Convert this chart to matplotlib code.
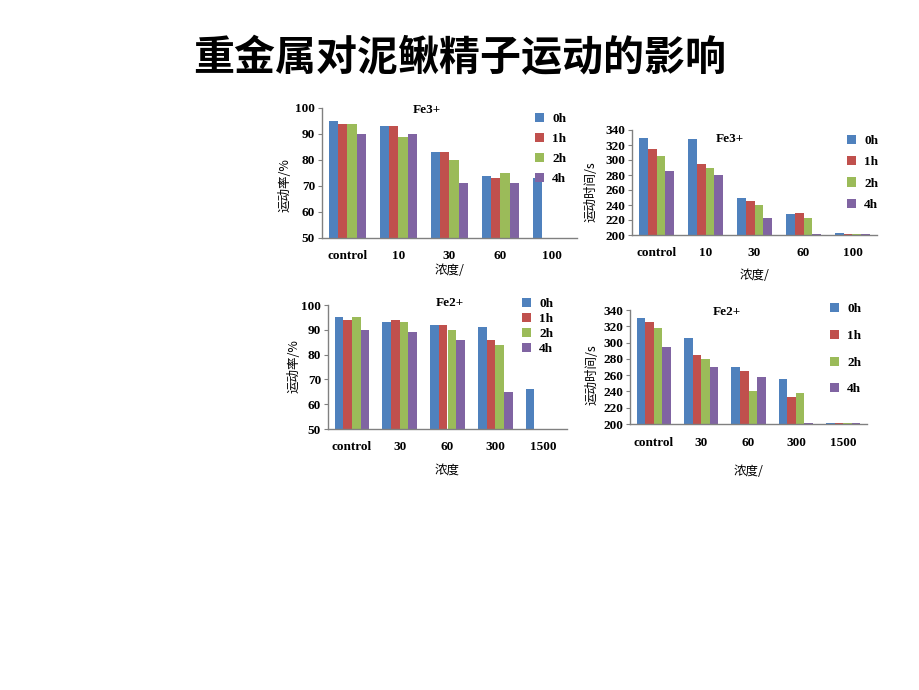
import matplotlib.pyplot as plt
import numpy as np
from matplotlib.font_manager import FontProperties

# Data (nan = no bar drawn)
hours = ['0h', '1h', '2h', '4h']
colors = ['#4F81BD', '#C0504D', '#9BBB59', '#8064A2']

fe3_conc = ['control', '10', '30', '60', '100']
fe3_rate = [  # per hour series, per concentration
    [95, 93, 83, 74, 73],
    [94, 93, 83, 73, np.nan],
    [94, 89, 80, 75, np.nan],
    [90, 90, 71, 71, np.nan],
]
fe3_time = [
    [330, 328, 249, 228, 203],
    [315, 295, 245, 230, 201],
    [305, 290, 240, 222, 201],
    [285, 280, 223, 201, 201],
]

fe2_conc = ['control', '30', '60', '300', '1500']
fe2_rate = [
    [95, 93, 92, 91, 66],
    [94, 94, 92, 86, np.nan],
    [95, 93, 90, 84, np.nan],
    [90, 89, 86, 65, np.nan],
]
fe2_time = [
    [330, 306, 270, 255, 201],
    [325, 285, 265, 233, 201],
    [318, 280, 240, 238, 201],
    [295, 270, 258, 201, 201],
]

W, H = 920, 690
SERIF = FontProperties(family='Liberation Serif', weight='bold', size=9.5)
CJK = FontProperties(family='Noto Sans CJK SC', size=9)


def px_rect(x0, y0, x1, y1):
    # pixel box (top-left origin) -> figure fraction rect
    return [x0 / W, 1 - y1 / H, (x1 - x0) / W, (y1 - y0) / H]


def panel(fig, box, cats, series, ylim, yticks, ylabel, xlabel, title,
          title_xy, ylab_xy, xlab_pad, leg_xy, leg_space):
    ax = fig.add_axes(px_rect(*box))
    x = np.arange(len(cats))
    bw = 0.18
    handles = []
    for i, vals in enumerate(series):
        b = ax.bar(x + (i - 1.5) * bw, vals, bw, color=colors[i],
                   linewidth=0, label=hours[i])
        handles.append(b)
    ax.set_xlim(-0.5, len(cats) - 0.5)
    ax.set_ylim(*ylim)
    ax.set_yticks(yticks)
    ax.set_xticks(x)
    ax.set_xticklabels(cats, fontproperties=SERIF)
    ax.set_yticklabels([str(t) for t in yticks], fontproperties=SERIF)
    ax.tick_params(axis='x', length=0, pad=9)
    ax.tick_params(axis='y', length=3, width=0.8, color='#808080', pad=2)
    for s in ('top', 'right'):
        ax.spines[s].set_visible(False)
    for s in ('left', 'bottom'):
        ax.spines[s].set_color('#808080')
        ax.spines[s].set_linewidth(1.0)
    ax.set_ylabel(ylabel, fontproperties=CJK)
    ax.yaxis.set_label_coords(*ylab_xy)
    ax.set_xlabel(xlabel, fontproperties=CJK, labelpad=xlab_pad)
    ax.text(title_xy[0], title_xy[1], title, transform=ax.transAxes,
            ha='center', va='center', fontproperties=SERIF)
    ax.legend(handles=handles, loc='upper left', frameon=False,
              bbox_to_anchor=(leg_xy[0] / W, 1 - leg_xy[1] / H),
              bbox_transform=fig.transFigure, prop=SERIF,
              handlelength=0.7, handleheight=0.7, handletextpad=0.6,
              labelspacing=leg_space, borderpad=0, borderaxespad=0)
    return ax


fig = plt.figure(figsize=(9.2, 6.9), dpi=100)
fig.text(0.5, 1 - 58 / H, '重金属对泥鳅精子运动的影响', ha='center', va='center',
         fontsize=29.5, fontweight='bold', family='Noto Sans CJK SC')

panel(fig, (322, 108, 577, 238), fe3_conc, fe3_rate, (50, 100),
      [50, 60, 70, 80, 90, 100], '运动率/%', '浓度/', 'Fe3+',
      (0.41, 0.985), (-0.118, 0.41), 1, (535, 113), 0.58)
panel(fig, (632, 130, 877, 235), fe3_conc, fe3_time, (200, 340),
      list(range(200, 341, 20)), '运动时间/s', '浓度/', 'Fe3+',
      (0.40, 0.914), (-0.139, 0.41), 7, (847, 135), 0.68)
panel(fig, (328, 305, 567, 429), fe2_conc, fe2_rate, (50, 100),
      [50, 60, 70, 80, 90, 100], '运动率/%', '浓度', 'Fe2+',
      (0.51, 1.02), (-0.117, 0.508), 7, (522, 298), 0.2)
panel(fig, (630, 310, 867, 424), fe2_conc, fe2_time, (200, 340),
      list(range(200, 341, 20)), '运动时间/s', '浓度/', 'Fe2+',
      (0.41, 0.98), (-0.131, 0.43), 12, (830, 303), 1.1)

fig.savefig('out.png', dpi=100)
